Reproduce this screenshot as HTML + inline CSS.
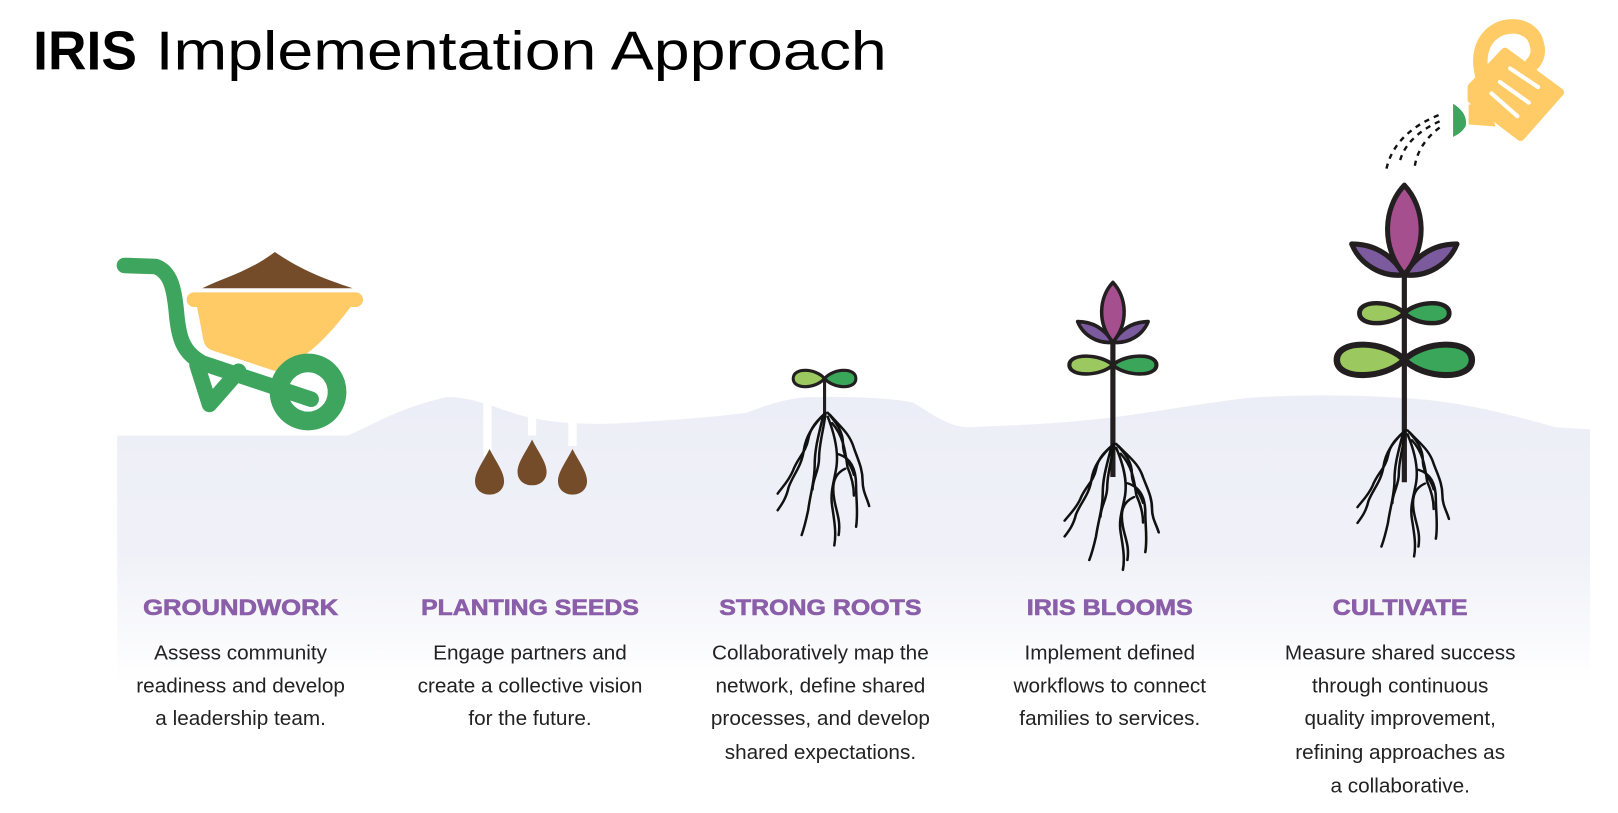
<!DOCTYPE html>
<html><head><meta charset="utf-8"><style>
html,body{margin:0;padding:0;background:#fff;overflow:hidden}
#w{width:1560px;height:784px;transform:scale(1.03718,1.03699);transform-origin:0 0;position:relative}
svg{position:absolute;left:0;top:0}
.h{font-family:"Liberation Sans",sans-serif;font-weight:bold;font-size:21px;fill:#8a5ea8;stroke:#8a5ea8;stroke-width:0.6px;text-anchor:middle}
.b{font-family:"Liberation Sans",sans-serif;font-size:20px;fill:#222;text-anchor:middle}
</style></head><body><div id="w">
<svg width="1560" height="784" viewBox="0 0 1560 784">
<defs>
<linearGradient id="g" gradientUnits="userSpaceOnUse" x1="0" y1="380" x2="0" y2="660">
<stop offset="0" stop-color="#eceef7"/><stop offset="0.55" stop-color="#f0f1f8"/><stop offset="1" stop-color="#ffffff"/></linearGradient>
<g id="roots" fill="none" stroke="#111" stroke-width="2.3" stroke-linecap="round">
<path d="M0,0 C-8,8 -14,14 -16,26 C-18,38 -26,44 -30,56 C-34,66 -40,72 -44,78"/>
<path d="M-4,4 C-12,14 -18,22 -20,36 C-22,52 -30,60 -34,72 C-36,82 -40,88 -44,94"/>
<path d="M-2,2 C-6,20 -10,34 -10,50 C-10,66 -14,78 -16,94 C-18,104 -20,112 -22,118"/>
<path d="M0,0 C-2,18 -6,30 -6,44 C-6,56 -12,64 -12,74"/>
<path d="M2,0 C10,10 16,18 16,30 C16,44 24,50 26,60"/>
<path d="M4,2 C14,14 22,20 26,34 C30,46 34,54 34,66 C34,76 38,82 40,90"/>
<path d="M2,4 C8,20 12,36 10,52 C8,66 4,76 6,90 C8,104 10,116 8,128"/>
<path d="M6,10 C16,22 18,36 20,52 C24,62 26,70 26,80"/>
<path d="M12,40 C24,44 28,56 28,70 C28,84 30,96 28,110"/>
<path d="M18,54 C6,60 6,72 8,84 C10,96 14,104 12,118"/>
</g>
<g id="lp" stroke="#231f20" stroke-linejoin="round">
<path d="M0,0 C-12,-13 -42,-14 -42,0 C-42,14 -12,13 0,0Z" fill="#9cc95f"/>
<path d="M0,0 C12,-13 42,-14 42,0 C42,14 12,13 0,0Z" fill="#3aa65a"/>
</g>
<g id="fl" stroke="#231f20" stroke-linejoin="round">
<path d="M0,0 C-8,-12 -20,-22 -40,-22 C-34,-8 -18,2 0,0Z" fill="#7c5a9e"/>
<path d="M0,0 C8,-12 20,-22 40,-22 C34,-8 18,2 0,0Z" fill="#7c5a9e"/>
<path d="M0,0 C-18,-20 -16,-48 0,-64 C16,-48 18,-20 0,0Z" fill="#a54f8f"/>
</g>
</defs>
<text x="32" y="67" font-family="Liberation Sans,sans-serif" font-size="53" font-weight="bold" fill="#000" textLength="100" lengthAdjust="spacingAndGlyphs">IRIS</text>
<text x="150" y="67" font-family="Liberation Sans,sans-serif" font-size="53" fill="#000" textLength="705" lengthAdjust="spacingAndGlyphs">Implementation Approach</text>
<!-- ground -->
<path d="M113,420 L335,420 C360,410 380,395 430,383 C450,382 470,390 500,400 C530,408 560,410 600,408 C650,405 690,402 720,398 C740,390 760,384 780,383 C820,382 860,384 880,388 C900,400 915,412 935,412 C970,410 1000,410 1050,405 C1100,400 1150,390 1200,384 C1250,380 1320,380 1380,386 C1430,392 1470,404 1500,412 L1533,414 L1533,660 L113,660Z" fill="url(#g)"/>
<!-- seeds -->
<g stroke="#fff" stroke-width="8"><line x1="470" y1="385" x2="470" y2="440"/><line x1="513" y1="395" x2="513" y2="420"/><line x1="552" y1="400" x2="552" y2="430"/></g>
<g fill="#754c29">
<path d="M472,433 C478,445 486,455 486,464 C486,472 480,477 472,477 C464,477 458,472 458,464 C458,455 466,445 472,433Z"/>
<path d="M513,424 C519,436 527,446 527,455 C527,463 521,468 513,468 C505,468 499,463 499,455 C499,446 507,436 513,424Z"/>
<path d="M552,433 C558,445 566,455 566,464 C566,472 560,477 552,477 C544,477 538,472 538,464 C538,455 546,445 552,433Z"/>
</g>
<!-- wheelbarrow -->
<path d="M195,278 C215,268 240,262 265,243 C290,260 310,268 340,278Z" fill="#754c29"/>
<rect x="180" y="282" width="170" height="14" rx="7" fill="#fecb66"/>
<path d="M190,296 L338,296 C320,320 305,335 290,345 C280,348 272,352 266,358 L205,338 C198,336 196,330 195,322Z" fill="#fecb66"/>
<g fill="none" stroke="#3da55e" stroke-width="15" stroke-linecap="round" stroke-linejoin="round">
<path d="M120,256 L150,257 C165,262 168,280 170,300 C172,325 176,340 195,350 L300,385"/>
<path d="M190,352 L202,390 L230,358"/>
</g>
<circle cx="297" cy="378" r="28" fill="none" stroke="#3da55e" stroke-width="18"/>
<!-- sprout -->
<line x1="795" y1="365" x2="795" y2="402" stroke="#231f20" stroke-width="3"/>
<g transform="translate(795,365) scale(0.72,0.78)"><use href="#lp" stroke-width="4"/></g>
<use href="#roots" transform="translate(796,398) scale(1.05,1)"/>
<!-- iris blooms -->
<line x1="1073" y1="320" x2="1073" y2="460" stroke="#231f20" stroke-width="5"/>
<g transform="translate(1073,352) scale(1.0,0.85)"><use href="#lp" stroke-width="4"/></g>
<g transform="translate(1073,330) scale(0.85,0.9)"><use href="#fl" stroke-width="4"/></g>
<use href="#roots" transform="translate(1074,428) scale(1.08,0.95)"/>
<!-- cultivate -->
<line x1="1354" y1="260" x2="1354" y2="465" stroke="#231f20" stroke-width="5"/>
<g transform="translate(1354,302) scale(1.03,0.95)"><use href="#lp" stroke-width="4.5"/></g>
<g transform="translate(1354,347) scale(1.55,1.45)"><use href="#lp" stroke-width="4"/></g>
<g transform="translate(1354,265) scale(1.27,1.35)"><use href="#fl" stroke-width="3.8"/></g>
<use href="#roots" transform="translate(1355,415) scale(1.05,0.95)"/>
<!-- watering can -->
<path d="M1429,72 C1424,52 1430,34 1448,27 C1466,22 1480,30 1482,44 C1484,52 1481,58 1477,62" fill="none" stroke="#fecb66" stroke-width="14" stroke-linecap="round"/>
<path d="M1451,50 L1504,89 L1466,132 L1419,96 L1419,84Z" fill="#fecb66" stroke="#fecb66" stroke-width="8" stroke-linejoin="round"/>
<path d="M1416,101 L1434,97 L1442,122 L1416,120Z" fill="#fecb66"/>
<g stroke="#fff" stroke-width="4" stroke-linecap="round"><line x1="1456" y1="66" x2="1483" y2="84"/><line x1="1446" y1="79" x2="1474" y2="99"/><line x1="1438" y1="90" x2="1463" y2="112"/></g>
<path d="M1401,100 C1411,106 1415,114 1413,122 C1409,128 1405,130 1401,132Z" fill="#3da55e"/>
<g fill="none" stroke="#111" stroke-width="2.3" stroke-dasharray="5,5">
<path d="M1387,111 C1360,122 1340,140 1336,167"/>
<path d="M1388,117 C1368,126 1352,140 1349,159"/>
<path d="M1388,123 C1376,132 1366,145 1364,161"/>
</g>
<!-- headings -->
<text class="h" x="232" y="593" textLength="188" lengthAdjust="spacingAndGlyphs">GROUNDWORK</text>
<text class="h" x="511" y="593" textLength="210" lengthAdjust="spacingAndGlyphs">PLANTING SEEDS</text>
<text class="h" x="791" y="593" textLength="195" lengthAdjust="spacingAndGlyphs">STRONG ROOTS</text>
<text class="h" x="1070" y="593" textLength="160" lengthAdjust="spacingAndGlyphs">IRIS BLOOMS</text>
<text class="h" x="1350" y="593" textLength="130" lengthAdjust="spacingAndGlyphs">CULTIVATE</text>
<text class="b" x="232" y="636">Assess community</text>
<text class="b" x="232" y="668">readiness and develop</text>
<text class="b" x="232" y="699">a leadership team.</text>
<text class="b" x="511" y="636">Engage partners and</text>
<text class="b" x="511" y="668">create a collective vision</text>
<text class="b" x="511" y="699">for the future.</text>
<text class="b" x="791" y="636">Collaboratively map the</text>
<text class="b" x="791" y="668">network, define shared</text>
<text class="b" x="791" y="699">processes, and develop</text>
<text class="b" x="791" y="732">shared expectations.</text>
<text class="b" x="1070" y="636">Implement defined</text>
<text class="b" x="1070" y="668">workflows to connect</text>
<text class="b" x="1070" y="699">families to services.</text>
<text class="b" x="1350" y="636">Measure shared success</text>
<text class="b" x="1350" y="668">through continuous</text>
<text class="b" x="1350" y="699">quality improvement,</text>
<text class="b" x="1350" y="732">refining approaches as</text>
<text class="b" x="1350" y="764">a collaborative.</text>
</svg></div></body></html>
